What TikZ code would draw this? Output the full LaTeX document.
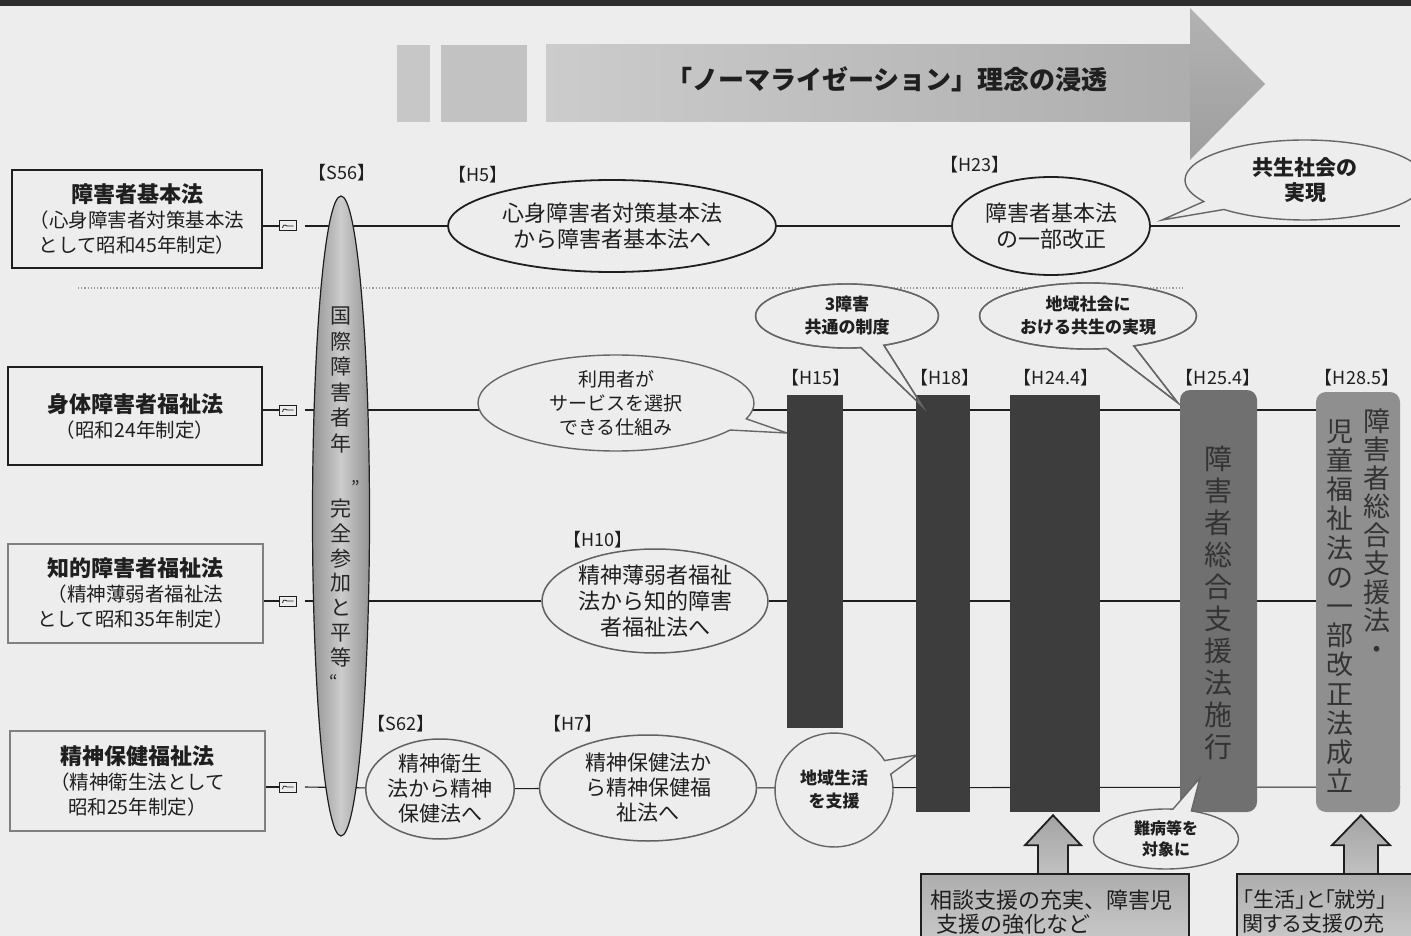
\documentclass[tikz,border=0pt]{standalone}
\usepackage{fontspec}
\setmainfont{Noto Sans CJK JP}
\usetikzlibrary{shapes.geometric,shapes.callouts,calc,backgrounds}
\definecolor{paper}{gray}{0.93}
\definecolor{ink}{gray}{0.12}
\definecolor{pencil}{gray}{0.40}
\definecolor{bardark}{gray}{0.24}
\definecolor{barmid}{gray}{0.44}
\definecolor{barlight}{gray}{0.56}
\begin{document}
\begin{tikzpicture}[x=1pt,y=-1pt,
  lawbox/.style={draw=ink, line width=2.6pt, fill=paper, inner sep=0pt, align=center,
    font=\fontsize{19.5}{25}\selectfont, text=ink},
  lawboxg/.style={lawbox, draw=black!50, line width=2pt},
  brk/.style={draw=ink, line width=1pt, fill=paper, minimum width=17pt, minimum height=10pt, inner sep=0pt,
    path picture={\draw[line width=0.8pt] ($(path picture bounding box.west)+(3,2)$)
      .. controls +(1,-6) and +(-3,1) .. ($(path picture bounding box.center)+(1,0)$)
      -- ($(path picture bounding box.east)+(-3,0)$);}},
  era/.style={font=\fontsize{18}{20}\selectfont, inner sep=0pt, text=ink},
  evt/.style={ellipse, draw=ink, line width=1.8pt, fill=paper, inner sep=0pt, align=center,
    font=\fontsize{22}{26}\selectfont, text=ink},
  evtg/.style={evt, draw=black!62, line width=1.5pt},
  note/.style={ellipse callout, draw=pencil, line width=1.4pt, fill=paper, inner sep=0pt, align=center,
    font=\fontsize{19}{24}\selectfont, text=ink},
  smallnote/.style={note, font=\bfseries\fontsize{17}{23}\selectfont},
  bar/.style={fill=bardark, inner sep=0pt},
  vtext/.style={align=center, inner sep=0pt, text=black!85},
  rowline/.style={draw=ink, line width=1.1pt},
  consbox/.style={draw=ink, line width=1.8pt, top color=black!32, bottom color=black!20,
    inner xsep=10pt, inner ysep=0pt, align=left, font=\fontsize{22}{24}\selectfont, text=ink},
  uparrow/.style={draw=ink, line width=1.8pt, top color=black!36, bottom color=black!24, line join=miter}
]
\begin{scope}[on background layer]
  \fill[paper] (0,0) rectangle (1411,936);
\end{scope}
\useasboundingbox (0,0) rectangle (1411,936);
\clip (0,0) rectangle (1411,936);

% top band
\fill[black!82] (0,0) rectangle (1411,6);

% banner
\fill[black!22] (397,45) rectangle (430,122);
\fill[black!24] (441,45) rectangle (527,122);
\shade[left color=black!20, right color=black!32] (546,45) rectangle (1191,122);
\shade[top color=black!30, bottom color=black!38] (1190,8) -- (1265,84) -- (1190,160) -- cycle;
\node[font=\bfseries\fontsize{26}{28}\selectfont, text=ink, inner sep=0pt] (banner) at (887,79)
  {「ノーマライゼーション」理念の浸透};

% law boxes
\node[lawbox, minimum width=250, minimum height=98] (box1) at (137,219)
  {{\bfseries\fontsize{22}{25}\selectfont 障害者基本法}\\（心身障害者対策基本法\\として昭和45年制定）};
\node[lawbox, minimum width=254, minimum height=98] (box2) at (135,416)
  {{\bfseries\fontsize{22}{25}\selectfont 身体障害者福祉法}\\（昭和24年制定）};
\node[lawboxg, minimum width=255, minimum height=99] (box3) at (135.5,593)
  {{\bfseries\fontsize{22}{25}\selectfont 知的障害者福祉法}\\（精神薄弱者福祉法\\として昭和35年制定）};
\node[lawboxg, minimum width=255, minimum height=100] (box4) at (137.5,781)
  {{\bfseries\fontsize{22}{25}\selectfont 精神保健福祉法}\\（精神衛生法として\\昭和25年制定）};

% break symbols
\node[brk] (sym1) at (288,226) {};
\node[brk] (sym2) at (288,410) {};
\node[brk] (sym3) at (288,601) {};
\node[brk] (sym4) at (288,787) {};

\coordinate (g1) at (305,226); \coordinate (e1) at (1400,226);
\coordinate (g2) at (305,410); \coordinate (e2) at (1400,410);
\coordinate (g3) at (305,601); \coordinate (e3) at (1400,601);
\coordinate (g4) at (305,787); \coordinate (e4) at (1400,787);
\coordinate (sepL) at (78,288); \coordinate (sepR) at (1185,288);

% International Year ellipse
\node[ellipse, draw=ink, line width=1.2pt, left color=black!42, right color=black!42, middle color=black!20,
  minimum width=57, minimum height=640, inner sep=0pt] (s56) at (341,516) {};
\node[vtext, font=\fontsize{21}{25.6}\selectfont] (vt1) at (341,380) {国\\際\\障\\害\\者\\年};
\node[vtext, font=\fontsize{21}{24.8}\selectfont] (vt2) at (341,583) {完\\全\\参\\加\\と\\平\\等};
\node[vtext, font=\fontsize{18}{20}\selectfont] (q1) at (356,487) {”};
\node[vtext, font=\fontsize{18}{20}\selectfont] (q2) at (334,681) {“};

% events
\node[evt, minimum width=328, minimum height=92] (h5) at (612,226) {心身障害者対策基本法\\から障害者基本法へ};
\node[evt, minimum width=198, minimum height=98] (h23) at (1051,226) {障害者基本法\\の一部改正};
\node[evtg, minimum width=226, minimum height=104] (h10) at (655,601) {精神薄弱者福祉\\法から知的障害\\者福祉法へ};
\node[evtg, minimum width=146, minimum height=100, font=\fontsize{21}{25}\selectfont] (s62) at (440,789) {精神衛生\\法から精神\\保健法へ};
\node[evtg, minimum width=217, minimum height=106, font=\fontsize{21}{25}\selectfont] (h7) at (648,788) {精神保健法か\\ら精神保健福\\祉法へ};

% callouts
\node[note, minimum width=276, minimum height=96, callout absolute pointer={(787,433)}] (c1) at (616,403)
  {利用者が\\サービスを選択\\できる仕組み};
\node[smallnote, minimum width=183, minimum height=64, callout absolute pointer={(923,407)}] (c2) at (847,316)
  {3障害\\共通の制度};
\node[smallnote, minimum width=217, minimum height=66, callout absolute pointer={(1178,403)}] (c3) at (1088,316)
  {地域社会に\\おける共生の実現};
\node[note, minimum width=240, minimum height=80, font=\bfseries\fontsize{21}{25}\selectfont,
  callout absolute pointer={(1162,220)}] (c4) at (1305,180) {共生社会の\\実現};
\node[smallnote, minimum width=118, minimum height=114, callout absolute pointer={(917,755)}] (c5) at (834,790)
  {地域生活\\を支援};

% bars
\node[bar, minimum width=56, minimum height=333] (b15) at (815,561.5) {};
\node[bar, minimum width=54, minimum height=417] (b18) at (943,603.5) {};
\node[bar, minimum width=90, minimum height=417] (b244) at (1055,603.5) {};
\node[bar, fill=barmid, rounded corners=10pt, minimum width=77, minimum height=422] (b254) at (1218.5,601) {};
\node[bar, fill=barlight, rounded corners=10pt, minimum width=84, minimum height=420] (b285) at (1358,602) {};

\node[vtext, font=\fontsize{28}{32}\selectfont, text=black!80] (t254) at (1218,603)
  {障\\害\\者\\総\\合\\支\\援\\法\\施\\行};
\node[vtext, font=\fontsize{27}{28.5}\selectfont, text=black!80] (t285a) at (1377,534)
  {障\\害\\者\\総\\合\\支\\援\\法\\・};
\node[vtext, font=\fontsize{27}{29.2}\selectfont, text=black!80] (t285b) at (1340,606)
  {児\\童\\福\\祉\\法\\の\\一\\部\\改\\正\\法\\成\\立};

% outlines of callout tails over bars
\node[smallnote, fill=none, minimum width=183, minimum height=64, callout absolute pointer={(923,407)}] (c2o) at (847,316) {};
\node[smallnote, fill=none, minimum width=217, minimum height=66, callout absolute pointer={(1178,403)}] (c3o) at (1088,316) {};

\node[smallnote, minimum width=145, minimum height=60, font=\bfseries\fontsize{16}{21}\selectfont,
  callout absolute pointer={(1200,778)}] (c6) at (1166,839) {難病等を\\対象に};

% era labels
\node[era] (lS56) at (342,173) {【S56】};
\node[era] (lH5) at (478,175) {【H5】};
\node[era] (lH23) at (975,165) {【H23】};
\node[era] (lH10) at (598,540) {【H10】};
\node[era] (lS62) at (401,724) {【S62】};
\node[era] (lH7) at (573,724) {【H7】};
\node[era] (lH15) at (816,378) {【H15】};
\node[era] (lH18) at (945,378) {【H18】};
\node[era] (lH244) at (1056,378) {【H24.4】};
\node[era] (lH254) at (1218,378) {【H25.4】};
\node[era] (lH285) at (1357,378) {【H28.5】};

% bottom arrows and boxes
\coordinate (tip1) at ($(b244.south)+(-2,3)$);
\coordinate (tip2) at ($(b285.south)+(3,3)$);
\path[uparrow] ($(tip1)+(-15,60)$) -- ($(tip1)+(-15,30)$) -- ($(tip1)+(-28,30)$) -- (tip1)
  -- ($(tip1)+(28,30)$) -- ($(tip1)+(15,30)$) -- ($(tip1)+(15,60)$) -- cycle;
\path[uparrow] ($(tip2)+(-17,60)$) -- ($(tip2)+(-17,30)$) -- ($(tip2)+(-29,30)$) -- (tip2)
  -- ($(tip2)+(29,30)$) -- ($(tip2)+(17,30)$) -- ($(tip2)+(17,60)$) -- cycle;
\node[consbox, text width=248, minimum height=76, anchor=north west] (cons1) at (920,873)
  {相談支援の充実、障害児\\\hspace{6pt}支援の強化など};
\node[consbox, text width=200, minimum height=76, anchor=north west, inner xsep=6pt,
  font=\fontsize{21}{24}\selectfont\addfontfeatures{RawFeature=+palt}] (cons2) at (1236,873)
  {「生活」と「就労」\\関する支援の充};

% row connectors
\begin{scope}[on background layer]
  \draw[dotted, line width=1.2pt, black!40] (sepL) -- (sepR);
  \draw[rowline] (box1.east |- sym1) -- (sym1);
  \draw[rowline] (g1) -- (h5) -- (h23) -- (e1);
  \draw[rowline] (box2.east |- sym2) -- (sym2);
  \draw[rowline] (g2) -- (e2);
  \draw[rowline] (box3.east |- sym3) -- (sym3);
  \draw[rowline] (g3) -- (h10) -- (e3);
  \draw[rowline] (box4.east |- sym4) -- (sym4);
  \draw[rowline] (g4) -- (s62) -- (h7) -- (e4);
\end{scope}
\end{tikzpicture}
\end{document}
